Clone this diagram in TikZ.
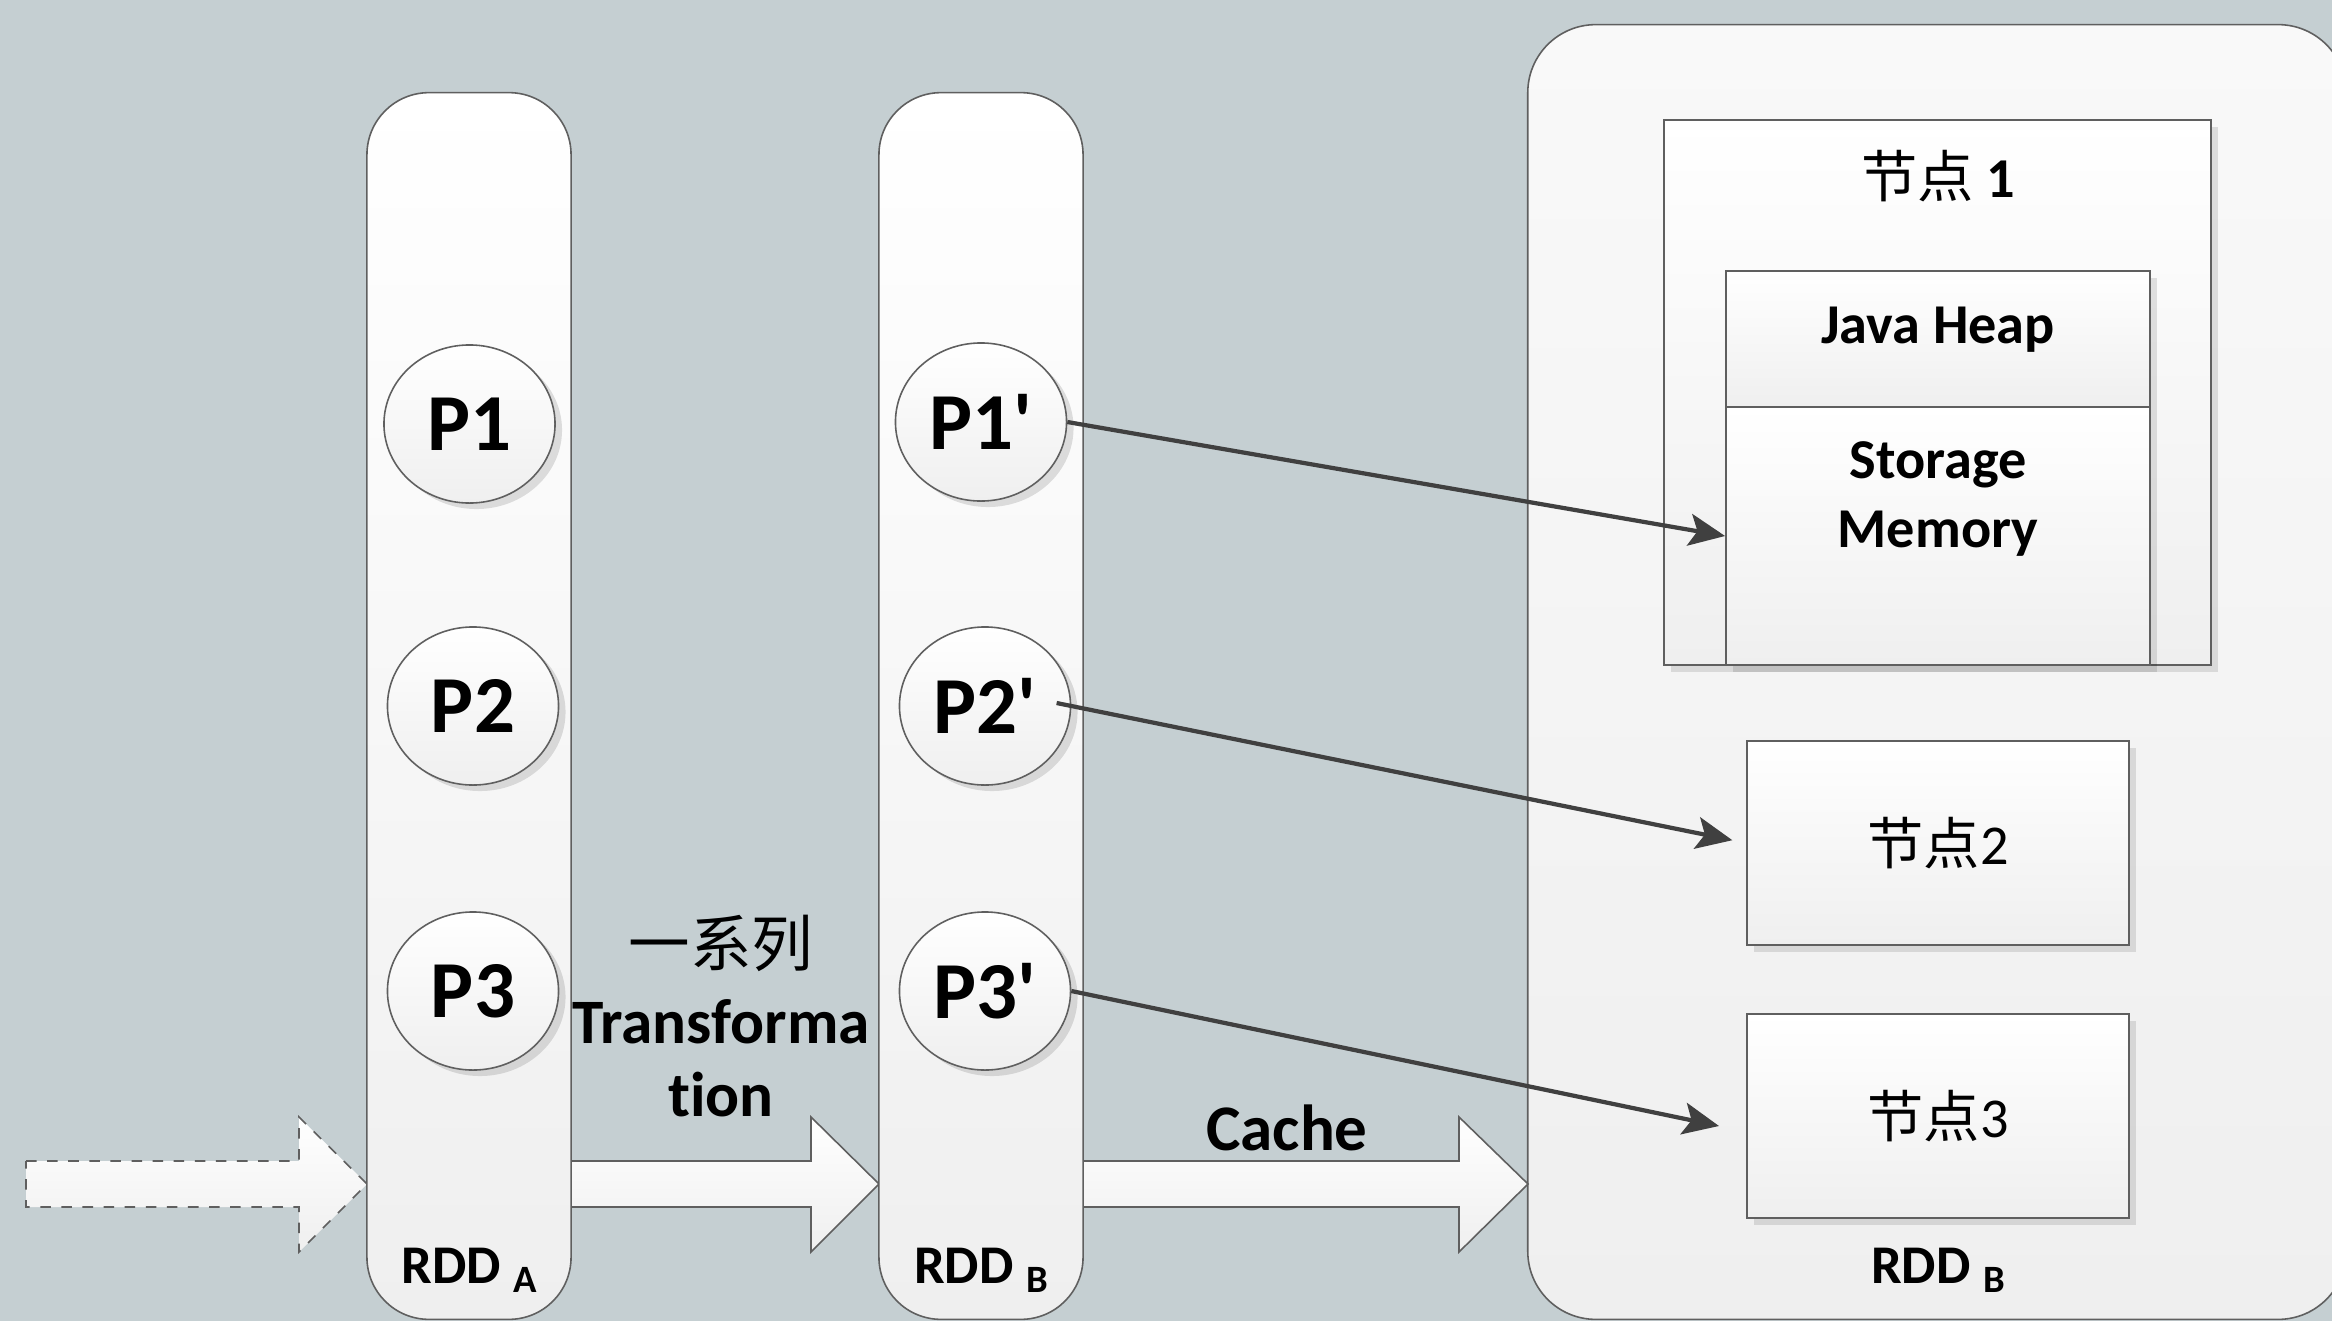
\documentclass[tikz,border=0pt]{standalone}
\usepackage{fontspec}
\setmainfont{Carlito}[Ligatures={TeX,NoCommon}]
\newfontfamily\cjk{Noto Sans CJK SC}
\usetikzlibrary{arrows.meta,shapes.geometric,shadows,calc}
\definecolor{bg}{RGB}{197,207,210}
\definecolor{edge}{RGB}{95,95,95}
\definecolor{arr}{RGB}{64,64,64}
\definecolor{shade}{RGB}{239,239,239}
\definecolor{bigtop}{RGB}{249,249,249}
\tikzset{
  pill/.style={draw=edge, line width=0.45pt, rounded corners=0.62cm, top color=white, bottom color=shade,
    minimum width=2.04cm, minimum height=12.26cm, inner sep=0},
  part/.style={ellipse, draw=edge, line width=0.45pt, top color=white, bottom color=shade,
    minimum width=1.71cm, minimum height=1.58cm, inner sep=0, font=\fontsize{23}{23}\selectfont\bfseries,
    drop shadow={shadow xshift=0.07cm, shadow yshift=-0.06cm, fill=black, opacity=0.12}},
  box/.style={draw=edge, line width=0.45pt, top color=white, bottom color=shade, inner sep=0,
    drop shadow={shadow xshift=0.07cm, shadow yshift=-0.07cm, fill=black, opacity=0.11}},
  blk/.style={draw=edge, line width=0.45pt, top color=white, bottom color=shade},
  link/.style={draw=arr, line width=1.2pt, -{Stealth[length=0.36cm,width=0.32cm,inset=0.08cm]}},
  lbl/.style={inner sep=0, anchor=base},
  rddfont/.style={font=\fontsize{15.5}{15.5}\selectfont\bfseries},
}
\newcommand{\subl}[1]{{\fontsize{11}{11}\selectfont\raisebox{-0.09cm}{#1}}}
\begin{document}
\begin{tikzpicture}[x=0.01cm,y=-0.01cm]
\useasboundingbox (0,0) rectangle (2332,1321);
\fill[bg] (0,0) rectangle (2332,1321);

% cluster container
\node[draw=edge, line width=0.45pt, rounded corners=0.68cm, top color=bigtop, bottom color=shade,
  minimum width=8.18cm, minimum height=12.94cm, inner sep=0] (cluster) at (1937,672) {};

% block arrows
\draw[blk, dashed] (26,1161) -- (299,1161) -- (299,1117) -- (367,1184) -- (299,1252) -- (299,1207) -- (26,1207) -- cycle;
\draw[blk] (560,1161) -- (811,1161) -- (811,1117) -- (879,1184) -- (811,1252) -- (811,1207) -- (560,1207) -- cycle;
\draw[blk] (1070,1161) -- (1459,1161) -- (1459,1117) -- (1528,1184) -- (1459,1252) -- (1459,1207) -- (1070,1207) -- cycle;

% RDD pills
\node[pill] (rddA) at (469,706) {};
\node[pill] (rddB) at (981,706) {};

% partitions
\node[part] (p1) at (469.5,424) {P1};
\node[part] (p2) at (473,706) {P2};
\node[part] (p3) at (473,991) {P3};
\node[part] (q1) at (981,422) {P1\textquotesingle};
\node[part] (q2) at (985,706) {P2\textquotesingle};
\node[part] (q3) at (985,991) {P3\textquotesingle};

% RDD labels
\node[lbl, rddfont] (la) at (469,1283) {RDD \subl{A}};
\node[lbl, rddfont] (lb) at (981,1283) {RDD \subl{B}};
\node[lbl, rddfont] (lc) at (1938,1283) {RDD \subl{B}};

% transformation / cache labels
\node[lbl, font=\cjk\fontsize{17.5}{17.5}\selectfont] (t1) at (721,966) {一系列};
\node[lbl, font=\fontsize{18}{18}\selectfont\bfseries] (t2) at (721,1043) {Transforma};
\node[lbl, font=\fontsize{18}{18}\selectfont\bfseries] (t3) at (721,1116) {tion};
\node[lbl, font=\fontsize{18.5}{18.5}\selectfont\bfseries] (cache) at (1287,1150) {Cache};

% node 1
\node[box, minimum width=5.47cm, minimum height=5.45cm] (n1) at (1937.5,392.5) {};
\node[lbl, font=\fontsize{16}{16}\selectfont] (n1t) at (1938,197) {{\cjk 节点} \textbf{1}};
\node[box, minimum width=4.24cm, minimum height=1.36cm] (heap) at (1938,339) {};
\node[box, minimum width=4.24cm, minimum height=2.58cm] (storage) at (1938,536) {};
\node[lbl, font=\fontsize{16}{16}\selectfont\bfseries] (heapt) at (1938,343) {Java Heap};
\node[lbl, font=\fontsize{16}{16}\selectfont\bfseries] (st1) at (1938,478) {Storage};
\node[lbl, font=\fontsize{16}{16}\selectfont\bfseries] (st2) at (1938,547) {Memory};

% nodes 2 and 3
\node[box, minimum width=3.82cm, minimum height=2.04cm, font=\fontsize{16}{16}\selectfont] (n2) at (1938,843) {{\cjk 节点}2};
\node[box, minimum width=3.82cm, minimum height=2.04cm, font=\fontsize{16}{16}\selectfont] (n3) at (1938,1116) {{\cjk 节点}3};

% cache links
\coordinate (t3end) at (1719,1126);
\draw[link] (q1.east) -- (storage.west);
\draw[link, shorten <=-0.15cm, shorten >=0.14cm] (q2.east) -- (n2.west);
\draw[link] (q3.east) -- (t3end);
\end{tikzpicture}
\end{document}
